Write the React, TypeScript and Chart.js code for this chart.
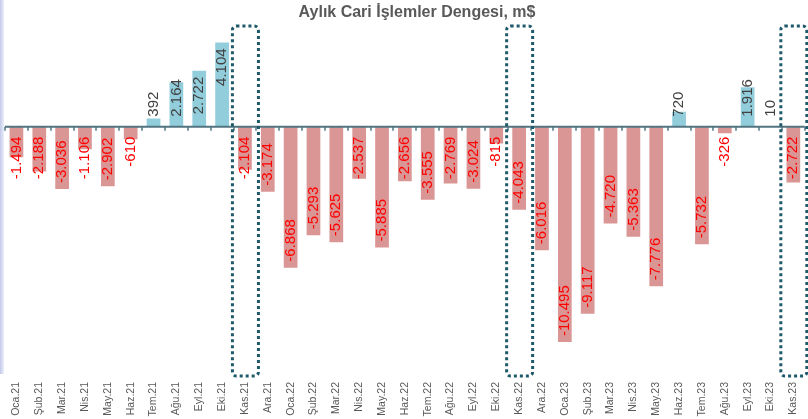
import React, { useEffect, useRef } from 'react';
import { Chart, registerables } from 'chart.js';

Chart.register(...registerables);

const title = 'Aylık Cari İşlemler Dengesi, m$';

const categories = [
  'Oca.21', 'Şub.21', 'Mar.21', 'Nis.21', 'May.21', 'Haz.21', 'Tem.21', 'Ağu.21', 'Eyl.21', 'Eki.21', 'Kas.21', 'Ara.21',
  'Oca.22', 'Şub.22', 'Mar.22', 'Nis.22', 'May.22', 'Haz.22', 'Tem.22', 'Ağu.22', 'Eyl.22', 'Eki.22', 'Kas.22', 'Ara.22',
  'Oca.23', 'Şub.23', 'Mar.23', 'Nis.23', 'May.23', 'Haz.23', 'Tem.23', 'Ağu.23', 'Eyl.23', 'Eki.23', 'Kas.23',
];

const values = [
  -1494, -2188, -3036, -1106, -2902, -610, 392, 2164, 2722, 4104, -2104, -3174,
  -6868, -5293, -5625, -2537, -5885, -2656, -3555, -2769, -3024, -815, -4043, -6016,
  -10495, -9117, -4720, -5363, -7776, 720, -5732, -326, 1916, 10, -2722,
];

const highlighted = ['Kas.21', 'Kas.22', 'Kas.23'];

const yMin = -12000;
const yMax = 5000;

const POS_COLOR = '#92cddc';
const NEG_COLOR = '#d99694';
const FONT = '"Liberation Sans", Arial, sans-serif';

function fmt(v: number): string {
  const s = String(Math.abs(v)).replace(/\B(?=(\d{3})+(?!\d))/g, '.');
  return (v < 0 ? '-' : '') + s;
}

const overlayPlugin = {
  id: 'overlay',
  afterDatasetsDraw(chart: any) {
    const ctx = chart.ctx as CanvasRenderingContext2D;
    const xs = chart.scales.x;
    const ys = chart.scales.y;
    const area = chart.chartArea;
    const zero = ys.getPixelForValue(0);
    const step = xs.getPixelForValue(1) - xs.getPixelForValue(0);

    // zero axis line + ticks
    ctx.save();
    ctx.strokeStyle = '#527480';
    ctx.lineWidth = 2;
    ctx.beginPath();
    ctx.moveTo(area.left, zero);
    ctx.lineTo(area.right, zero);
    ctx.stroke();
    ctx.lineWidth = 1.5;
    for (let i = 0; i <= categories.length; i++) {
      const bx = Math.round(xs.getPixelForValue(i) - step / 2);
      ctx.beginPath();
      ctx.moveTo(bx, zero);
      ctx.lineTo(bx, zero + 4);
      ctx.stroke();
    }
    ctx.restore();

    // dotted highlight boxes
    ctx.save();
    ctx.strokeStyle = '#1f5a6a';
    ctx.lineWidth = 3;
    ctx.setLineDash([3, 3]);
    highlighted.forEach((c) => {
      const idx = categories.indexOf(c);
      if (idx < 0) return;
      const cx = xs.getPixelForValue(idx);
      const left = cx - 12.5;
      const w = 26;
      const top = 26;
      const bottom = 376;
      ctx.beginPath();
      if ((ctx as any).roundRect) {
        (ctx as any).roundRect(left, top, w, bottom - top, 4);
      } else {
        ctx.rect(left, top, w, bottom - top);
      }
      ctx.stroke();
    });
    ctx.restore();

    // value labels
    const meta = chart.getDatasetMeta(0);
    ctx.save();
    ctx.font = `15px ${FONT}`;
    ctx.textAlign = 'left';
    ctx.textBaseline = 'middle';
    meta.data.forEach((el: any, i: number) => {
      const v = values[i];
      const txt = fmt(v);
      const w = ctx.measureText(txt).width;
      let bottom: number;
      if (v < 0) {
        bottom = el.y - 6;
        let top = bottom - w;
        if (top < zero + 10) {
          top = zero + 10;
          bottom = top + w;
        }
        ctx.fillStyle = '#ff0000';
      } else {
        const top = el.y + 6;
        bottom = top + w;
        if (bottom > zero - 10) bottom = zero - 10;
        ctx.fillStyle = '#404040';
      }
      ctx.save();
      ctx.translate(el.x, bottom);
      ctx.rotate(-Math.PI / 2);
      ctx.fillText(txt, 0, 0);
      ctx.restore();
    });
    ctx.restore();

    // title
    ctx.save();
    ctx.font = `bold 16px ${FONT}`;
    ctx.fillStyle = '#595959';
    ctx.textAlign = 'center';
    ctx.textBaseline = 'middle';
    ctx.fillText(title, 417, 13);
    ctx.restore();
  },
};

export default function App() {
  const canvasRef = useRef<HTMLCanvasElement | null>(null);

  useEffect(() => {
    if (!canvasRef.current) return;
    const chart = new Chart(canvasRef.current, {
      type: 'bar',
      data: {
        labels: categories,
        datasets: [
          {
            data: values,
            backgroundColor: values.map((v) => (v < 0 ? NEG_COLOR : POS_COLOR)),
            borderWidth: 0,
            barPercentage: 0.6,
            categoryPercentage: 1,
          },
        ],
      },
      options: {
        animation: false,
        responsive: true,
        maintainAspectRatio: false,
        layout: { padding: { left: 5, right: 5, top: 24, bottom: 0 } },
        plugins: {
          legend: { display: false },
          title: { display: false },
          tooltip: { enabled: false },
        },
        scales: {
          x: {
            grid: { display: false, drawTicks: false },
            border: { display: false },
            ticks: {
              autoSkip: false,
              minRotation: 90,
              maxRotation: 90,
              padding: 9,
              color: '#595959',
              font: { family: FONT, size: 10.5 },
            },
            afterFit(scale: any) {
              scale.height = 46;
            },
          },
          y: {
            display: false,
            min: yMin,
            max: yMax,
          },
        },
      },
      plugins: [overlayPlugin],
    });
    return () => chart.destroy();
  }, []);

  return (
    <div style={{ position: 'fixed', left: 0, top: 0, width: 808, height: 419, overflow: 'hidden', background: '#fff' }}>
      <div
        style={{
          position: 'absolute',
          left: 0,
          top: 0,
          width: 4,
          height: 374,
          background: 'linear-gradient(to right, #c3c9e9, #eceffa)',
        }}
      />
      <div style={{ position: 'absolute', left: 0, top: 0, width: 815, height: 419 }}>
        <canvas ref={canvasRef} />
      </div>
    </div>
  );
}
